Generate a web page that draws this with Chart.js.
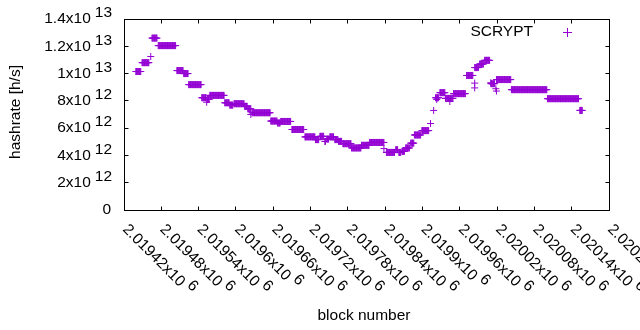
<!DOCTYPE html>
<html>
<head>
<meta charset="utf-8">
<script src="https://cdn.jsdelivr.net/npm/chart.js@4.4.1/dist/chart.umd.min.js"></script>
<style>
  html, body { margin: 0; padding: 0; background: #fff; }
  canvas { display: block; }
</style>
</head>
<body>
<canvas id="hashChart" width="640" height="330"></canvas>
<script>
// Hashrate runs: first block, last block, estimated rate (x10^12 h/s)
const segStart = [2019439, 2019449, 2019463, 2019465, 2019475, 2019505, 2019516, 2019524, 2019545, 2019553,
  2019554, 2019558, 2019582, 2019590, 2019597, 2019614, 2019619, 2019624, 2019626, 2019656,
  2019667, 2019672, 2019690, 2019711, 2019728, 2019735, 2019743, 2019746, 2019751, 2019759,
  2019765, 2019772, 2019786, 2019802, 2019815, 2019838, 2019842, 2019857, 2019862, 2019867,
  2019873, 2019881, 2019887, 2019899, 2019913, 2019918, 2019923, 2019921, 2019928, 2019937,
  2019944, 2019950, 2019971, 2019984, 2019984, 2019984, 2019992, 2020000, 2020010, 2020010,
  2020018, 2020019, 2020019, 2020043, 2020101, 2020153];
const segEnd = [2019447, 2019460, 2019463, 2019473, 2019503, 2019515, 2019523, 2019544, 2019552, 2019553,
  2019557, 2019581, 2019589, 2019595, 2019613, 2019618, 2019624, 2019624, 2019655, 2019666,
  2019671, 2019688, 2019709, 2019727, 2019733, 2019741, 2019744, 2019749, 2019757, 2019764,
  2019770, 2019785, 2019801, 2019814, 2019838, 2019838, 2019855, 2019860, 2019865, 2019871,
  2019879, 2019886, 2019897, 2019910, 2019913, 2019918, 2019923, 2019926, 2019936, 2019949,
  2019944, 2019969, 2019981, 2019984, 2019984, 2019990, 2019998, 2020008, 2020010, 2020016,
  2020018, 2020019, 2020042, 2020100, 2020151, 2020157];
const segRate = [10.15, 10.8, 11.25, 12.6, 12.05, 10.22, 10.0, 9.19, 8.23, 7.9,
  8.1, 8.4, 7.86, 7.69, 7.79, 7.6, 7.42, 7.0, 7.13, 6.52,
  6.38, 6.49, 5.9, 5.36, 5.16, 5.4, 5.03, 5.2, 5.36, 5.16,
  5.03, 4.86, 4.55, 4.74, 4.95, 4.5, 4.22, 4.42, 4.22, 4.3,
  4.55, 4.9, 5.5, 5.82, 6.34, 7.3, 8.1, 8.23, 8.6, 8.18,
  7.95, 8.53, 9.86, 9.3, 8.95, 10.44, 10.7, 10.97, 9.33, 9.26,
  8.89, 8.72, 9.56, 8.82, 8.16, 7.3];

// Axis ticks
const xTickValues = [2019420, 2019480, 2019540, 2019600, 2019660, 2019720, 2019780,
  2019840, 2019900, 2019960, 2020020, 2020080, 2020140, 2020200];
const xTickMant = ['2.01942', '2.01948', '2.01954', '2.0196', '2.01966', '2.01972', '2.01978',
  '2.01984', '2.0199', '2.01996', '2.02002', '2.02008', '2.02014', '2.0202'];
const xTickExp = '6';
const yTickValues = [0, 2e12, 4e12, 6e12, 8e12, 1e13, 1.2e13, 1.4e13];
const yTickMant = ['0', '2x10', '4x10', '6x10', '8x10', '1x10', '1.2x10', '1.4x10'];
const yTickExp = ['', '12', '12', '12', '12', '13', '13', '13'];

const seriesName = 'SCRYPT';
const purple = '#9400d3';
const FONT = '15.5px "Liberation Sans", Arial, sans-serif';

// one point per block inside each run
function buildPoints() {
    const pts = [];
    for (let i = 0; i < segStart.length; i++) {
        for (let b = segStart[i]; b <= segEnd[i]; b++) {
            pts.push({ x: b, y: segRate[i] * 1e12 });
        }
    }
    return pts;
}

// gnuplot-like frame, inward ticks, labels with exponents, key
const gnuplotLook = {
    id: 'gnuplotLook',
    afterDraw(chart) {
        const ctx = chart.ctx;
        const area = chart.chartArea;
        const xs = chart.scales.x;
        const ys = chart.scales.y;
        const L = Math.floor(area.left) + 0.5;
        const R = Math.floor(area.right) + 0.5;
        const T = Math.floor(area.top) + 0.5;
        const B = Math.floor(area.bottom) + 0.5;

        ctx.save();
        ctx.strokeStyle = '#000';
        ctx.lineWidth = 1;
        ctx.strokeRect(L, T, R - L, B - T);

        ctx.beginPath();
        xTickValues.forEach(v => {
            const px = Math.floor(xs.getPixelForValue(v)) + 0.5;
            ctx.moveTo(px, B); ctx.lineTo(px, B - 4);
            ctx.moveTo(px, T); ctx.lineTo(px, T + 4);
        });
        yTickValues.forEach(v => {
            const py = Math.floor(ys.getPixelForValue(v)) + 0.5;
            ctx.moveTo(L, py); ctx.lineTo(L + 4, py);
            ctx.moveTo(R, py); ctx.lineTo(R - 4, py);
        });
        ctx.stroke();

        ctx.fillStyle = '#000';
        ctx.font = FONT;

        // y tick labels, right aligned
        ctx.textBaseline = 'middle';
        ctx.textAlign = 'right';
        yTickValues.forEach((v, i) => {
            const py = ys.getPixelForValue(v);
            let right = 112;
            if (yTickExp[i]) {
                ctx.fillText(yTickExp[i], right, py - 6);
                right -= ctx.measureText(yTickExp[i]).width + 4;
                ctx.fillText(yTickMant[i], right, py);
            } else {
                ctx.fillText(yTickMant[i], right - 1, py);
            }
        });

        // x tick labels rotated -45
        ctx.textAlign = 'left';
        xTickValues.forEach((v, i) => {
            const px = xs.getPixelForValue(v);
            ctx.save();
            ctx.translate(px + 1, 227);
            ctx.rotate(Math.PI / 4);
            const mant = xTickMant[i] + 'x10';
            ctx.fillText(mant, 0, 0);
            ctx.fillText(xTickExp, ctx.measureText(mant + ' ').width, -6);
            ctx.restore();
        });

        // axis titles
        ctx.textAlign = 'center';
        ctx.fillText('block number', 364, 316);
        ctx.save();
        ctx.translate(16, 112);
        ctx.rotate(-Math.PI / 2);
        ctx.fillText('hashrate [h/s]', 0, 0);
        ctx.restore();

        // key
        ctx.textAlign = 'right';
        ctx.fillText(seriesName, 533, 32);
        ctx.strokeStyle = purple;
        ctx.beginPath();
        ctx.moveTo(563, 32.5); ctx.lineTo(572, 32.5);
        ctx.moveTo(567.5, 28); ctx.lineTo(567.5, 37);
        ctx.stroke();
        ctx.restore();
    }
};

document.addEventListener('DOMContentLoaded', () => {
    const ctx = document.getElementById('hashChart').getContext('2d');
    new Chart(ctx, {
        type: 'scatter',
        data: {
            datasets: [{
                label: seriesName,
                data: buildPoints(),
                pointStyle: 'cross',
                pointRadius: 3.5,
                pointHoverRadius: 3.5,
                borderWidth: 1,
                borderColor: purple,
                backgroundColor: purple,
                showLine: false
            }]
        },
        options: {
            responsive: false,
            animation: false,
            events: [],
            layout: { padding: { left: 0, top: 19, right: 31, bottom: 0 } },
            scales: {
                x: {
                    type: 'linear',
                    min: 2019420,
                    max: 2020200,
                    ticks: { display: false },
                    grid: { display: false },
                    border: { display: false },
                    afterFit: s => { s.height = 120; }
                },
                y: {
                    type: 'linear',
                    min: 0,
                    max: 1.4e13,
                    ticks: { display: false },
                    grid: { display: false },
                    border: { display: false },
                    afterFit: s => { s.width = 124; }
                }
            },
            plugins: {
                legend: { display: false },
                tooltip: { enabled: false }
            }
        },
        plugins: [gnuplotLook]
    });
});
</script>
</body>
</html>
